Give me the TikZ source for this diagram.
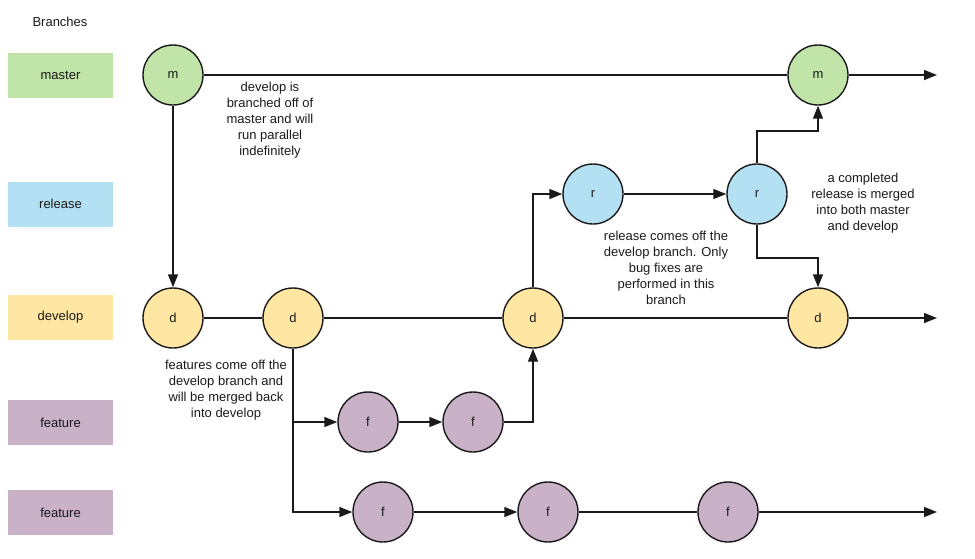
\documentclass[tikz,border=0pt]{standalone}
\usepackage{fontspec}
\setmainfont{Liberation Sans}
\usetikzlibrary{arrows.meta}
\definecolor{cmaster}{HTML}{C1E4A9}
\definecolor{crelease}{HTML}{B3E0F2}
\definecolor{cdevelop}{HTML}{FFE6A2}
\definecolor{cfeature}{HTML}{C9B1C8}
\definecolor{ink}{HTML}{1A1A1A}
\begin{document}
\begin{tikzpicture}[x=1pt,y=1pt,
  every node/.style={font=\fontsize{13}{16}\selectfont, text=ink},
  lane/.style={minimum width=105pt, minimum height=45pt, inner sep=0pt},
  commit/.style={circle, draw=ink, line width=1.4pt, minimum size=60pt, inner sep=0pt},
  note/.style={align=center, inner sep=0pt},
  link/.style={draw=ink, line width=1.4pt},
  flow/.style={link, -{Triangle[length=13pt,width=10pt]}}
]
\useasboundingbox (0,0) rectangle (975,-558);

% branch labels on the left
\node (title) at (60,-22) {Branches};
\node[lane, fill=cmaster]  (lmaster)  at (60.5,-75.5)  {master};
\node[lane, fill=crelease] (lrelease) at (60.5,-204)   {release};
\node[lane, fill=cdevelop] (ldevelop) at (60.5,-317)   {develop};
\node[lane, fill=cfeature] (lfeatA)   at (60.5,-422.5) {feature};
\node[lane, fill=cfeature] (lfeatB)   at (60.5,-512.5) {feature};

% commits
\node[commit, fill=cmaster]  (m1) at (173,-75)  {m};
\node[commit, fill=cmaster]  (m2) at (818,-75)  {m};
\node[commit, fill=crelease] (r1) at (593,-194) {r};
\node[commit, fill=crelease] (r2) at (757,-194) {r};
\node[commit, fill=cdevelop] (d1) at (173,-318) {d};
\node[commit, fill=cdevelop] (d2) at (293,-318) {d};
\node[commit, fill=cdevelop] (d3) at (533,-318) {d};
\node[commit, fill=cdevelop] (d4) at (818,-318) {d};
\node[commit, fill=cfeature] (f1) at (368,-422) {f};
\node[commit, fill=cfeature] (f2) at (473,-422) {f};
\node[commit, fill=cfeature] (g1) at (383,-512) {f};
\node[commit, fill=cfeature] (g2) at (548,-512) {f};
\node[commit, fill=cfeature] (g3) at (728,-512) {f};

% free ends and bends
\coordinate (mend) at (937,-75);
\coordinate (dend) at (937,-318);
\coordinate (gend) at (937,-512);
\coordinate (rm) at (757,-131);
\coordinate (rd) at (757,-258);
\coordinate (fb) at (293,-422);

% master
\draw[link] (m1) -- (m2);
\draw[flow] (m2) -- (mend);
\draw[flow] (m1) -- (d1);

% develop
\draw[link] (d1) -- (d2);
\draw[link] (d2) -- (d3);
\draw[link] (d3) -- (d4);
\draw[flow] (d4) -- (dend);

% release
\draw[flow] (d3) |- (r1);
\draw[flow] (r1) -- (r2);
\draw[flow] (r2) -- (rm) -| (m2);
\draw[flow] (r2) -- (rd) -| (d4);

% features
\draw[flow] (d2) |- (g1);
\draw[flow] (fb) -- (f1);
\draw[flow] (f1) -- (f2);
\draw[flow] (f2) -| (d3);
\draw[flow] (g1) -- (g2);
\draw[link] (g2) -- (g3);
\draw[flow] (g3) -- (gend);

% notes
\node[note] (n1) at (270,-120) {develop is\\branched off of\\master and will\\run parallel\\indefinitely};
\node[note] (n2) at (666,-268) {release comes off the\\develop branch. Only\\bug fixes are\\performed in this\\branch};
\node[note] (n3) at (226,-390) {features come off the\\develop branch and\\will be merged back\\into develop};
\node[note] (n4) at (863,-203) {a completed\\release is merged\\into both master\\and develop};
\end{tikzpicture}
\end{document}
